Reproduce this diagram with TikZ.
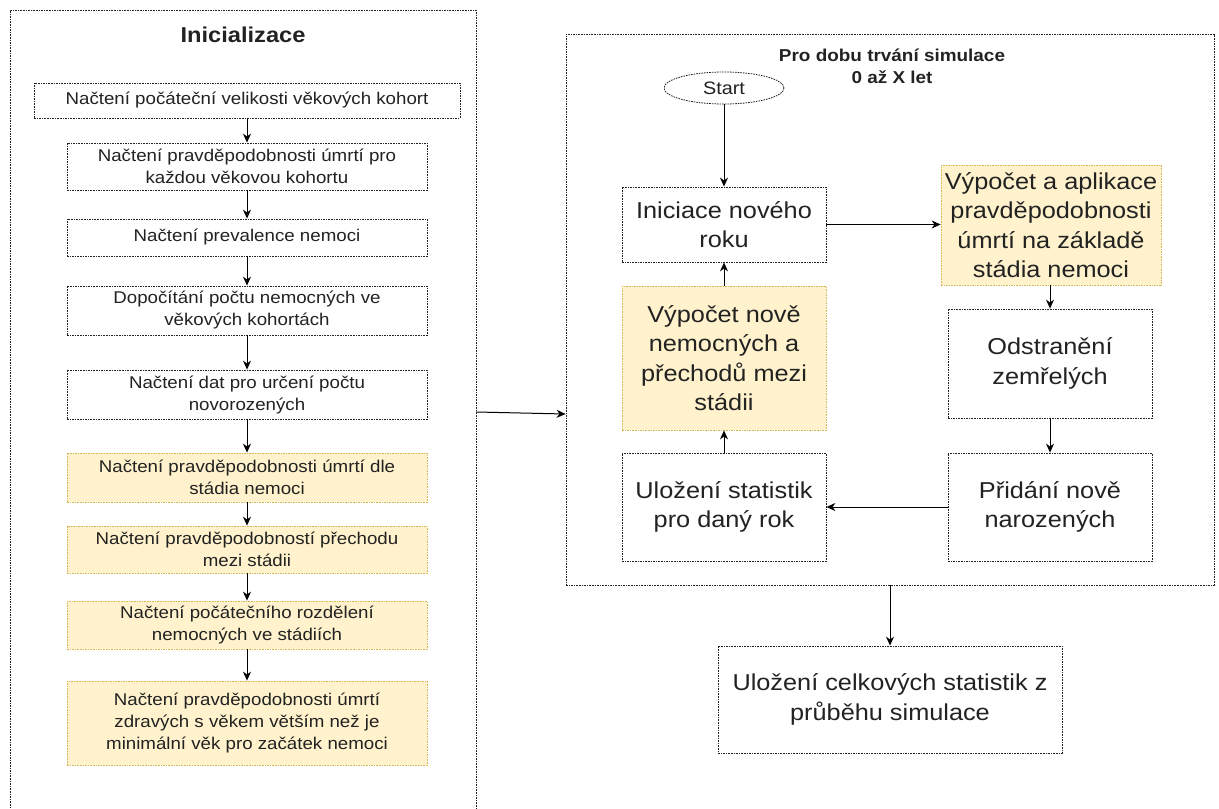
\documentclass[tikz,border=0pt]{standalone}
\usepackage{fontspec}
\setmainfont{Liberation Sans}[FakeStretch=1.1]
\usetikzlibrary{arrows.meta,shapes.geometric}

\definecolor{notefill}{HTML}{FFF2CC}
\definecolor{noteline}{HTML}{D6B656}
\definecolor{ink}{HTML}{222222}

\tikzset{
  frame/.style={draw=ink, line width=0.8pt, dash pattern=on 1.6pt off 1pt,
    inner sep=0pt, align=center, text=ink},
  plainbox/.style={frame, fill=white},
  notebox/.style={frame, draw=noteline, fill=notefill},
  smalltext/.style={font=\fontsize{17}{22}\selectfont},
  bigtext/.style={font=\fontsize{23}{29.5}\selectfont},
  arr/.style={-{Stealth[length=9pt,width=8pt]}, line width=1pt, draw=black},
}

\begin{document}
\begin{tikzpicture}[x=1pt,y=-1pt]
\useasboundingbox (0,0) rectangle (1219,809);

% outer groups
\node[frame, minimum width=466, minimum height=822] (ini) at (243,421) {};
\node[frame, minimum width=648, minimum height=551] (sim) at (890,309.5) {};

\node[font=\fontsize{21.5}{25}\selectfont\bfseries, text=ink] (iniT) at (243,35) {Inicializace};
\node[font=\fontsize{17.2}{22}\selectfont\bfseries, text=ink, align=center] (simT) at (892,66)
  {Pro dobu trvání simulace\\0 až X let};

% initialisation steps
\node[plainbox, smalltext, minimum width=426, minimum height=35] (l1) at (247,100.5)
  {Načtení počáteční velikosti věkových kohort};
\node[plainbox, smalltext, minimum width=360, minimum height=47] (l2) at (247,166.5)
  {Načtení pravděpodobnosti úmrtí pro\\každou věkovou kohortu};
\node[plainbox, smalltext, minimum width=360, minimum height=37] (l3) at (247,237.5)
  {Načtení prevalence nemoci};
\node[plainbox, smalltext, minimum width=360, minimum height=49] (l4) at (247,310.5)
  {Dopočítání počtu nemocných ve\\věkových kohortách};
\node[plainbox, smalltext, minimum width=360, minimum height=49] (l5) at (247,394.5)
  {Načtení dat pro určení počtu\\novorozených};
\node[notebox, smalltext, minimum width=360, minimum height=49] (l6) at (247,477.5)
  {Načtení pravděpodobnosti úmrtí dle\\stádia nemoci};
\node[notebox, smalltext, minimum width=360, minimum height=47] (l7) at (247,549.5)
  {Načtení pravděpodobností přechodu\\mezi stádii};
\node[notebox, smalltext, minimum width=360, minimum height=48] (l8) at (247,625)
  {Načtení počátečního rozdělení\\nemocných ve stádiích};
\node[notebox, smalltext, minimum width=360, minimum height=84] (l9) at (247,723)
  {Načtení pravděpodobnosti úmrtí\\zdravých s věkem větším než je\\minimální věk pro začátek nemoci};

\foreach \a/\b in {l1/l2,l2/l3,l3/l4,l4/l5,l5/l6,l6/l7,l7/l8,l8/l9}
  \draw[arr] (\a) -- (\b);

% yearly simulation loop
\node[frame, ellipse, fill=white, minimum width=120, minimum height=32,
  font=\fontsize{18}{20}\selectfont] (start) at (724,88) {Start};
\node[plainbox, bigtext, minimum width=204, minimum height=75] (year) at (724,224.5)
  {Iniciace nového\\roku};
\node[notebox, bigtext, minimum width=220, minimum height=120] (death) at (1051,225)
  {Výpočet a aplikace\\pravděpodobnosti\\úmrtí na základě\\stádia nemoci};
\node[plainbox, bigtext, minimum width=204, minimum height=109] (remove) at (1050,363.5)
  {Odstranění\\zemřelých};
\node[plainbox, bigtext, minimum width=204, minimum height=108] (born) at (1050,507)
  {Přidání nově\\narozených};
\node[plainbox, bigtext, minimum width=204, minimum height=108] (stats) at (724,507)
  {Uložení statistik\\pro daný rok};
\node[notebox, bigtext, minimum width=204, minimum height=144] (trans) at (724,358)
  {Výpočet nově\\nemocných a\\přechodů mezi\\stádii};

\node[plainbox, bigtext, minimum width=344, minimum height=107] (final) at (890,699.5)
  {Uložení celkových statistik z\\průběhu simulace};

\draw[arr] (start) -- (year);
\draw[arr] (year) -- (year -| death.west);
\draw[arr] (death.south -| remove.north) -- (remove);
\draw[arr] (remove) -- (born);
\draw[arr] (born) -- (stats);
\draw[arr] (stats) -- (trans);
\draw[arr] (trans) -- (year);

\coordinate (iniOut) at ([yshift=9pt]ini.east);
\coordinate (simIn) at ([yshift=-104.5pt]sim.west);
\draw[arr] (iniOut) -- (simIn);
\draw[arr] (sim.south -| final.north) -- (final);
\end{tikzpicture}
\end{document}
